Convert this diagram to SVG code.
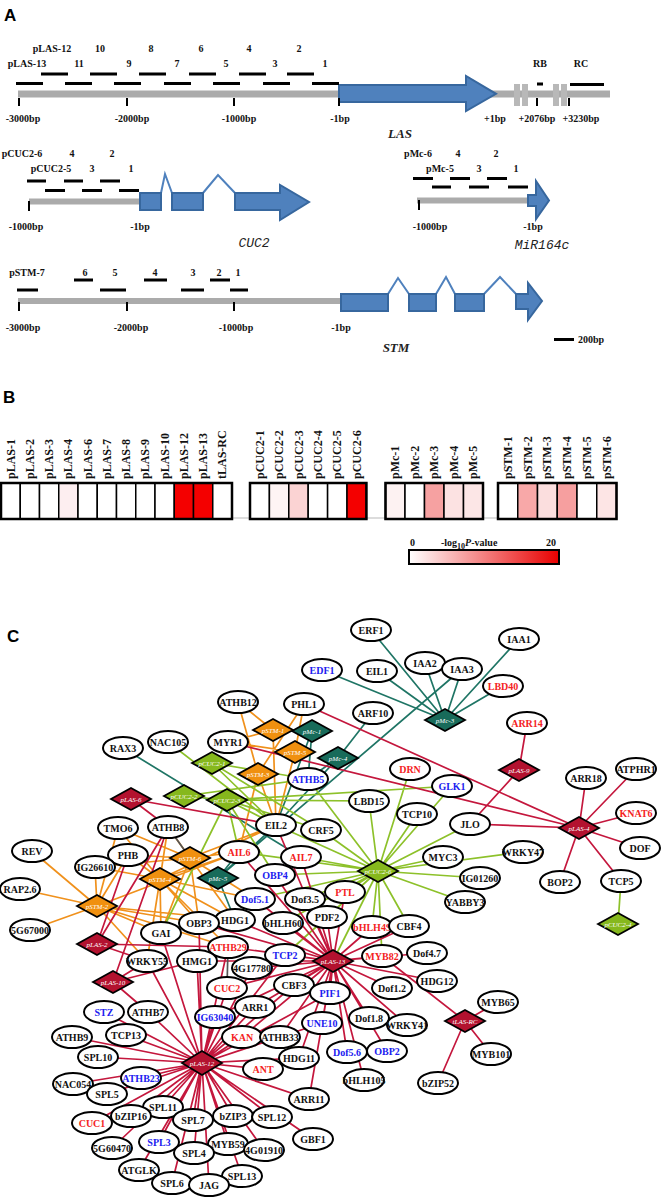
<svg xmlns="http://www.w3.org/2000/svg" width="661" height="1197" viewBox="0 0 661 1197">
<defs>
<linearGradient id="lg" x1="0" x2="1" y1="0" y2="0"><stop offset="0" stop-color="#ffffff"/><stop offset="1" stop-color="#e80000"/></linearGradient>
<style>
.pl{font:bold 17px "Liberation Sans",Arial,sans-serif;fill:#000}
.lb{font:bold 10px "Liberation Serif",serif;fill:#111}
.mid{text-anchor:middle}
.gi{font:bold italic 13px "Liberation Serif",serif;fill:#222;text-anchor:middle}
.gm{font:italic 13px "Liberation Mono",monospace;fill:#222;text-anchor:middle}
.bar{fill:#ababab}
.ds{stroke:#000;stroke-width:3}
.tk{stroke:#000;stroke-width:2}
.ex{fill:#4f81bd;stroke:#37679e;stroke-width:2}
.in{fill:none;stroke:#4f81bd;stroke-width:2}
.hl{font:bold 12px "Liberation Serif",serif;fill:#111}
.cell{stroke:#000;stroke-width:1.5}
.frame{fill:none;stroke:#000;stroke-width:2.5}
.c line,.c path{stroke-width:1.7;fill:none}
.tl{stroke:#1f7565}
.or{stroke:#f0911c}
.gr{stroke:#8dc12a}
.rd{stroke:#c4173d}
.gy{stroke:#555}
.nd ellipse{fill:#fff;stroke:#000;stroke-width:2}
.nd text{font:bold 10px "Liberation Serif",serif;text-anchor:middle;fill:#111}
.nd.r text{fill:#f42323}
.nd.b text{fill:#2020f0}
.dm polygon{stroke:#000;stroke-width:1.8}
.dm text{font:italic 7px "Liberation Serif",serif;text-anchor:middle;fill:#fff}
.mc polygon{fill:#186b5a}
.st polygon{fill:#f0900f}
.cu polygon{fill:#86b81d}
.la polygon{fill:#b3122f}
</style>
</defs>
<rect width="661" height="1197" fill="#fff"/>

<!-- Panel A -->
<g id="panelA">
<text class="pl" x="4" y="21">A</text>
<g id="gene-LAS">
<rect class="bar" x="18" y="90.5" width="592" height="7"/>
<rect x="514" y="84" width="6" height="22" fill="#b8b8b8"/>
<rect x="522" y="84" width="6" height="22" fill="#b8b8b8"/>
<rect x="553" y="84" width="6" height="22" fill="#b8b8b8"/>
<rect x="561" y="84" width="6" height="22" fill="#b8b8b8"/>
<path class="ex" d="M339,85H466V76L496,93.8L466,111V102H339Z"/>
<path class="tk" d="M19,98V106M127,98V106M234,98V106M339,98V106M537,98V106M569,98V106"/>
<path class="ds" d="M41,74H68M90,74H117M139,74H166M189,74H216M239,74H266M287,74H314M16,83.5H43M65,83.5H92M114,83.5H141M164,83.5H191M213,83.5H240M263,83.5H290M312,83.5H339M537,84H543M570,84.5H604"/>
<g class="lb mid">
<text x="52" y="52">pLAS-12</text><text x="100" y="52">10</text><text x="151" y="52">8</text><text x="201" y="52">6</text><text x="249" y="52">4</text><text x="299" y="52">2</text>
<text x="27" y="67">pLAS-13</text><text x="79" y="67">11</text><text x="129" y="67">9</text><text x="177" y="67">7</text><text x="226" y="67">5</text><text x="275" y="67">3</text><text x="325" y="67">1</text>
<text x="540" y="67">RB</text><text x="581" y="67">RC</text>
<text x="23" y="122">-3000bp</text><text x="132" y="122">-2000bp</text><text x="239" y="122">-1000bp</text><text x="340" y="122">-1bp</text>
<text x="495" y="122">+1bp</text><text x="537" y="122">+2076bp</text><text x="581" y="122">+3230bp</text>
</g>
<text class="gi" x="400" y="138">LAS</text>
</g>
<g id="gene-CUC2">
<rect class="bar" x="29" y="198.5" width="111" height="6"/>
<path class="tk" d="M29,201V211"/>
<path class="ds" d="M27,181H46M64,181H83M100,181H120M45,190.5H65M82,190.5H102M119,190.5H139"/>
<path class="in" d="M161,193L165,174L172,193M203,193L218,175L235,193"/>
<rect class="ex" x="140" y="193" width="21" height="17"/>
<rect class="ex" x="172" y="193" width="31" height="17"/>
<path class="ex" d="M235,193H280V185L309,202L280,220V210H235Z"/>
<g class="lb mid">
<text x="22" y="157">pCUC2-6</text><text x="72" y="157">4</text><text x="112" y="157">2</text>
<text x="51" y="172">pCUC2-5</text><text x="92" y="172">3</text><text x="131" y="172">1</text>
<text x="26" y="230">-1000bp</text><text x="140" y="230">-1bp</text>
</g>
<text class="gm" x="254" y="247">CUC2</text>
</g>
<g id="gene-MiR164c">
<rect class="bar" x="417" y="197.5" width="112" height="6"/>
<path class="tk" d="M419,200V210"/>
<path class="ds" d="M413,178.6H433M450,178.6H470M487,178.6H507M432,187H451M469,187H489M508,187H528"/>
<path class="ex" d="M528,195H536V181L549,200.5L536,219V206H528Z"/>
<g class="lb mid">
<text x="418" y="157">pMc-6</text><text x="458" y="157">4</text><text x="496" y="157">2</text>
<text x="440" y="172">pMc-5</text><text x="479" y="172">3</text><text x="516" y="172">1</text>
<text x="430" y="230">-1000bp</text><text x="533" y="230">-1bp</text>
</g>
<text class="gm" x="542" y="249">MiR164c</text>
</g>
<g id="gene-STM">
<rect class="bar" x="18" y="298" width="323" height="6"/>
<path class="tk" d="M19,302V311M127,302V311M234,302V311"/>
<path class="ds" d="M74,280H93M144,280H167M210,280H230M17,290H38M100,290H126M181,290H204M230,290H248"/>
<path class="in" d="M388,294L398,278L409,294M436,294L446,277L455,294M484,294L500,277L516,294"/>
<rect class="ex" x="341" y="294" width="47" height="17"/>
<rect class="ex" x="409" y="294" width="27" height="17"/>
<rect class="ex" x="455" y="294" width="29" height="17"/>
<path class="ex" d="M516,294H528V283L542,301L528,320V309H516Z"/>
<g class="lb mid">
<text x="27" y="276">pSTM-7</text><text x="85" y="276">6</text><text x="115" y="276">5</text><text x="155" y="276">4</text><text x="193" y="276">3</text><text x="219" y="276">2</text><text x="238" y="276">1</text>
<text x="23" y="331">-3000bp</text><text x="131" y="331">-2000bp</text><text x="236" y="331">-1000bp</text><text x="341" y="331">-1bp</text>
</g>
<text class="gi" x="396" y="352">STM</text>
<path class="ds" d="M554,339.5H574"/>
<text class="lb" x="578" y="343">200bp</text>
</g>
</g>

<!-- Panel B -->
<g id="panelB">
<text class="pl" x="3" y="403">B</text>
<path d="M232,518H498" stroke="#d0d0d0" stroke-width="1.5"/>
<g id="heat-LAS">
<rect class="cell" x="1" y="483" width="19.25" height="36" fill="#fff"/>
<rect class="cell" x="20.25" y="483" width="19.25" height="36" fill="#fff"/>
<rect class="cell" x="39.5" y="483" width="19.25" height="36" fill="#fff"/>
<rect class="cell" x="58.75" y="483" width="19.25" height="36" fill="#fdeef0"/>
<rect class="cell" x="78" y="483" width="19.25" height="36" fill="#fff"/>
<rect class="cell" x="97.25" y="483" width="19.25" height="36" fill="#fff"/>
<rect class="cell" x="116.5" y="483" width="19.25" height="36" fill="#fff"/>
<rect class="cell" x="135.75" y="483" width="19.25" height="36" fill="#fff"/>
<rect class="cell" x="155" y="483" width="19.25" height="36" fill="#fff"/>
<rect class="cell" x="174.25" y="483" width="19.25" height="36" fill="#f40000"/>
<rect class="cell" x="193.5" y="483" width="19.25" height="36" fill="#f40000"/>
<rect class="cell" x="212.75" y="483" width="19.25" height="36" fill="#fff"/>
<rect class="frame" x="1" y="483" width="231" height="36"/>
</g>
<g id="heat-CUC2">
<rect class="cell" x="250" y="483" width="19.4" height="36" fill="#fff"/>
<rect class="cell" x="269.4" y="483" width="19.4" height="36" fill="#fef4f4"/>
<rect class="cell" x="288.8" y="483" width="19.4" height="36" fill="#fbd3d3"/>
<rect class="cell" x="308.2" y="483" width="19.4" height="36" fill="#fff"/>
<rect class="cell" x="327.6" y="483" width="19.4" height="36" fill="#fff"/>
<rect class="cell" x="347" y="483" width="19.4" height="36" fill="#f40000"/>
<rect class="frame" x="250" y="483" width="116.4" height="36"/>
</g>
<g id="heat-Mc">
<rect class="cell" x="385.5" y="483" width="19.5" height="36" fill="#fdf2f2"/>
<rect class="cell" x="405" y="483" width="19.5" height="36" fill="#fff"/>
<rect class="cell" x="424.5" y="483" width="19.5" height="36" fill="#f6a1a1"/>
<rect class="cell" x="444" y="483" width="19.5" height="36" fill="#fce2e2"/>
<rect class="cell" x="463.5" y="483" width="19.5" height="36" fill="#fce6e6"/>
<rect class="frame" x="385.5" y="483" width="97.5" height="36"/>
</g>
<g id="heat-STM">
<rect class="cell" x="498" y="483" width="19.75" height="36" fill="#fff"/>
<rect class="cell" x="517.75" y="483" width="19.75" height="36" fill="#f8a8a8"/>
<rect class="cell" x="537.5" y="483" width="19.75" height="36" fill="#fbdede"/>
<rect class="cell" x="557.25" y="483" width="19.75" height="36" fill="#f69f9f"/>
<rect class="cell" x="577" y="483" width="19.75" height="36" fill="#fff"/>
<rect class="cell" x="596.75" y="483" width="19.75" height="36" fill="#fde5e5"/>
<rect class="frame" x="498" y="483" width="118.5" height="36"/>
</g>
<g class="hl" id="heat-labels">
<text transform="translate(14.6,479) rotate(-90)">pLAS-1</text>
<text transform="translate(33.9,479) rotate(-90)">pLAS-2</text>
<text transform="translate(53.1,479) rotate(-90)">pLAS-3</text>
<text transform="translate(72.4,479) rotate(-90)">pLAS-4</text>
<text transform="translate(91.6,479) rotate(-90)">pLAS-6</text>
<text transform="translate(110.9,479) rotate(-90)">pLAS-7</text>
<text transform="translate(130.1,479) rotate(-90)">pLAS-8</text>
<text transform="translate(149.4,479) rotate(-90)">pLAS-9</text>
<text transform="translate(168.6,479) rotate(-90)">pLAS-10</text>
<text transform="translate(187.9,479) rotate(-90)">pLAS-12</text>
<text transform="translate(207.1,479) rotate(-90)">pLAS-13</text>
<text transform="translate(226.4,479) rotate(-90)">tLAS-RC</text>
<text transform="translate(263.7,479) rotate(-90)">pCUC2-1</text>
<text transform="translate(283.1,479) rotate(-90)">pCUC2-2</text>
<text transform="translate(302.5,479) rotate(-90)">pCUC2-3</text>
<text transform="translate(321.9,479) rotate(-90)">pCUC2-4</text>
<text transform="translate(341.3,479) rotate(-90)">pCUC2-5</text>
<text transform="translate(360.7,479) rotate(-90)">pCUC2-6</text>
<text transform="translate(399.3,479) rotate(-90)">pMc-1</text>
<text transform="translate(418.8,479) rotate(-90)">pMc-2</text>
<text transform="translate(438.3,479) rotate(-90)">pMc-3</text>
<text transform="translate(457.8,479) rotate(-90)">pMc-4</text>
<text transform="translate(477.3,479) rotate(-90)">pMc-5</text>
<text transform="translate(511.9,479) rotate(-90)">pSTM-1</text>
<text transform="translate(531.6,479) rotate(-90)">pSTM-2</text>
<text transform="translate(551.4,479) rotate(-90)">pSTM-3</text>
<text transform="translate(571.1,479) rotate(-90)">pSTM-4</text>
<text transform="translate(590.9,479) rotate(-90)">pSTM-5</text>
<text transform="translate(610.6,479) rotate(-90)">pSTM-6</text>
</g>
<g id="legend">
<text class="lb" x="410" y="546" font-size="11">0</text>
<text class="lb" x="441" y="546" font-size="11">-log<tspan font-size="8" dy="3">10</tspan><tspan dy="-3" font-style="italic">P</tspan>-value</text>
<text class="lb" x="546" y="546" font-size="11">20</text>
<rect x="409" y="550" width="150" height="14" fill="url(#lg)" stroke="#000" stroke-width="2"/>
</g>
</g>

<!-- Panel C -->
<text class="pl" x="7" y="642">C</text>
<g id="connectors" class="c">
<path id="e-pMc-3" class="tl" d="M445,720L371,630M445,720L322,670M445,720L377,671M445,720L425,663M445,720L462,669M445,720L519,639M445,720L503,686"/>
<path id="e-pMc-other" class="tl" d="M462,669L218,878M338,758L373,713M338,758L276,825M338,758L308,779M312,731L308,779M312,731L276,825M218,878L239,852M218,878L235,920M218,878L276,825M123,748L301,857"/>
<path id="e-pSTM" class="or" d="M273,730L238,702M273,730L228,742M273,730L276,825M295,752L304,704M295,752L276,825M295,752L228,742M258,774L238,702M258,774L304,704M258,774L276,825M258,774L239,852M190,858L168,827M190,858L118,828M190,858L128,855M190,858L239,852M190,858L276,825M190,858L161,933M190,858L199,923M190,858L235,920M190,858L255,899M190,858L95,867M160,879L128,855M160,879L118,828M160,879L95,867M160,879L168,827M160,879L239,852M160,879L276,825M160,879L255,899M160,879L235,920M160,879L199,923M160,879L161,933M160,879L228,947M160,879L147,961M97,906L32,851M97,906L20,889M97,906L30,930M97,906L95,867M97,906L118,828M97,906L128,855M97,906L161,933M97,906L199,923M97,906L235,920M97,906L147,961M97,906L228,947M97,906L239,852"/>
<path id="e-pCUC2" class="gr" d="M168,742L276,825M212,763L276,825M212,763L308,779M212,763L321,830M184,796L308,779M184,796L227,800M227,800L369,801M227,800L452,786M227,800L276,825M227,800L161,933M227,800L239,852M227,800L275,875M227,800L321,830M618,924L621,881M378,871L410,769M378,871L452,786M378,871L369,801M378,871L417,814M378,871L470,824M378,871L443,857M378,871L523,852M378,871L480,878M378,871L465,902M378,871L321,830M378,871L276,825M378,871L308,779M378,871L301,857M378,871L275,875M378,871L239,852M378,871L255,899M378,871L305,899M378,871L345,892M378,871L327,917M378,871L283,923M378,871L372,927M378,871L409,926M378,871L285,955M378,871L333,961M378,871L382,956"/>
<path id="e-pLAS-4" class="rd" d="M579,828L304,704M579,828L228,742M579,828L470,824M579,828L586,778M579,828L636,769M579,828L636,813M579,828L640,848M579,828L621,881M579,828L560,882M519,770L527,723M519,770L470,824"/>
<path id="e-pLAS-small" class="rd" d="M131,799L168,827M131,799L276,825M97,944L228,947M97,944L168,827M97,944L147,961M97,944L128,855M113,982L168,827M113,982L147,961M113,982L197,961M113,982L148,1012M465,1021L382,956M465,1021L498,1002M465,1021L491,1054M465,1021L438,1083"/>
<path id="e-pLAS-13" class="rd" d="M333,961L345,892M333,961L327,917M333,961L283,923M333,961L305,899M333,961L255,899M333,961L301,857M333,961L275,875M333,961L276,825M333,961L239,852M333,961L235,920M333,961L199,923M333,961L372,927M333,961L409,926M333,961L382,956M333,961L427,953M333,961L437,981M333,961L392,988M333,961L407,1025M333,961L369,1018M333,961L330,993M333,961L322,1023M333,961L294,985M333,961L285,955M333,961L252,968M333,961L255,1007M333,961L228,947M333,961L227,988M333,961L215,1017M333,961L242,1037M333,961L280,1037M333,961L299,1058M333,961L347,1052M333,961L387,1051M333,961L364,1080M333,961L309,1099M333,961L197,961"/>
<path id="e-pLAS-12" class="rd" d="M202,1063L98,1057M202,1063L141,1078M202,1063L73,1084M202,1063L107,1094M202,1063L163,1107M202,1063L131,1116M202,1063L92,1123M202,1063L112,1148M202,1063L159,1142M202,1063L139,1170M202,1063L172,1183M202,1063L193,1120M202,1063L194,1153M202,1063L209,1185M202,1063L233,1116M202,1063L228,1144M202,1063L242,1176M202,1063L264,1150M202,1063L272,1117M202,1063L313,1139M202,1063L309,1099M202,1063L263,1069M202,1063L299,1058M202,1063L280,1037M202,1063L242,1037M202,1063L255,1007M202,1063L215,1017M202,1063L227,988M202,1063L228,947M202,1063L197,961M202,1063L161,933M202,1063L199,923M202,1063L126,1035M202,1063L72,1037M202,1063L104,1012M202,1063L148,1012M202,1063L294,985M202,1063L285,955M202,1063L330,993M202,1063L322,1023M202,1063L252,968M202,1063L147,961"/>
<path id="e-gray" class="gy" d="M168,827L190,858M228,947L227,988"/>
</g>

<g id="nodes">
<g id="n-ERF1" class="nd" transform="translate(371,630)"><ellipse rx="20" ry="11"/><text y="3.5">ERF1</text></g>
<g id="n-IAA1" class="nd" transform="translate(519,639)"><ellipse rx="20" ry="11"/><text y="3.5">IAA1</text></g>
<g id="n-IAA2" class="nd" transform="translate(425,663)"><ellipse rx="20" ry="11"/><text y="3.5">IAA2</text></g>
<g id="n-IAA3" class="nd" transform="translate(462,669)"><ellipse rx="20" ry="11"/><text y="3.5">IAA3</text></g>
<g id="n-EIL1" class="nd" transform="translate(377,671)"><ellipse rx="20" ry="11"/><text y="3.5">EIL1</text></g>
<g id="n-EDF1" class="nd b" transform="translate(322,670)"><ellipse rx="20" ry="11"/><text y="3.5">EDF1</text></g>
<g id="n-LBD40" class="nd r" transform="translate(503,686)"><ellipse rx="20" ry="11"/><text y="3.5">LBD40</text></g>
<g id="n-ATHB12" class="nd" transform="translate(238,702)"><ellipse rx="20" ry="11"/><text y="3.5">ATHB12</text></g>
<g id="n-PHL1" class="nd" transform="translate(304,704)"><ellipse rx="20" ry="11"/><text y="3.5">PHL1</text></g>
<g id="n-ARF10" class="nd" transform="translate(373,713)"><ellipse rx="20" ry="11"/><text y="3.5">ARF10</text></g>
<g id="n-ARR14" class="nd r" transform="translate(527,723)"><ellipse rx="20" ry="11"/><text y="3.5">ARR14</text></g>
<g id="n-RAX3" class="nd" transform="translate(123,748)"><ellipse rx="20" ry="11"/><text y="3.5">RAX3</text></g>
<g id="n-NAC105" class="nd" transform="translate(168,742)"><ellipse rx="20" ry="11"/><text y="3.5">NAC105</text></g>
<g id="n-MYR1" class="nd" transform="translate(228,742)"><ellipse rx="20" ry="11"/><text y="3.5">MYR1</text></g>
<g id="n-ATHB5" class="nd b" transform="translate(308,779)"><ellipse rx="20" ry="11"/><text y="3.5">ATHB5</text></g>
<g id="n-ARR18" class="nd" transform="translate(586,778)"><ellipse rx="20" ry="11"/><text y="3.5">ARR18</text></g>
<g id="n-ATPHR1" class="nd" transform="translate(636,769)"><ellipse rx="20" ry="11"/><text y="3.5">ATPHR1</text></g>
<g id="n-DRN" class="nd r" transform="translate(410,769)"><ellipse rx="20" ry="11"/><text y="3.5">DRN</text></g>
<g id="n-GLK1" class="nd b" transform="translate(452,786)"><ellipse rx="20" ry="11"/><text y="3.5">GLK1</text></g>
<g id="n-LBD15" class="nd" transform="translate(369,801)"><ellipse rx="20" ry="11"/><text y="3.5">LBD15</text></g>
<g id="n-TCP10" class="nd" transform="translate(417,814)"><ellipse rx="20" ry="11"/><text y="3.5">TCP10</text></g>
<g id="n-KNAT6" class="nd r" transform="translate(636,813)"><ellipse rx="20" ry="11"/><text y="3.5">KNAT6</text></g>
<g id="n-JLO" class="nd" transform="translate(470,824)"><ellipse rx="20" ry="11"/><text y="3.5">JLO</text></g>
<g id="n-TMO6" class="nd" transform="translate(118,828)"><ellipse rx="20" ry="11"/><text y="3.5">TMO6</text></g>
<g id="n-ATHB8" class="nd" transform="translate(168,827)"><ellipse rx="20" ry="11"/><text y="3.5">ATHB8</text></g>
<g id="n-EIL2" class="nd" transform="translate(276,825)"><ellipse rx="20" ry="11"/><text y="3.5">EIL2</text></g>
<g id="n-CRF5" class="nd" transform="translate(321,830)"><ellipse rx="20" ry="11"/><text y="3.5">CRF5</text></g>
<g id="n-DOF" class="nd" transform="translate(640,848)"><ellipse rx="20" ry="11"/><text y="3.5">DOF</text></g>
<g id="n-REV" class="nd" transform="translate(32,851)"><ellipse rx="20" ry="11"/><text y="3.5">REV</text></g>
<g id="n-PHB" class="nd" transform="translate(128,855)"><ellipse rx="20" ry="11"/><text y="3.5">PHB</text></g>
<g id="n-AIL6" class="nd r" transform="translate(239,852)"><ellipse rx="20" ry="11"/><text y="3.5">AIL6</text></g>
<g id="n-AIL7" class="nd r" transform="translate(301,857)"><ellipse rx="20" ry="11"/><text y="3.5">AIL7</text></g>
<g id="n-MYC3" class="nd" transform="translate(443,857)"><ellipse rx="20" ry="11"/><text y="3.5">MYC3</text></g>
<g id="n-WRKY47" class="nd" transform="translate(523,852)"><ellipse rx="20" ry="11"/><text y="3.5">WRKY47</text></g>
<g id="n-IG26610" class="nd" transform="translate(95,867)"><ellipse rx="20" ry="11"/><text y="3.5">IG26610</text></g>
<g id="n-OBP4" class="nd b" transform="translate(275,875)"><ellipse rx="20" ry="11"/><text y="3.5">OBP4</text></g>
<g id="n-IG01260" class="nd" transform="translate(480,878)"><ellipse rx="20" ry="11"/><text y="3.5">IG01260</text></g>
<g id="n-BOP2" class="nd" transform="translate(560,882)"><ellipse rx="20" ry="11"/><text y="3.5">BOP2</text></g>
<g id="n-TCP5" class="nd" transform="translate(621,881)"><ellipse rx="20" ry="11"/><text y="3.5">TCP5</text></g>
<g id="n-RAP2.6" class="nd" transform="translate(20,889)"><ellipse rx="20" ry="11"/><text y="3.5">RAP2.6</text></g>
<g id="n-PTL" class="nd r" transform="translate(345,892)"><ellipse rx="20" ry="11"/><text y="3.5">PTL</text></g>
<g id="n-Dof5.1" class="nd b" transform="translate(255,899)"><ellipse rx="20" ry="11"/><text y="3.5">Dof5.1</text></g>
<g id="n-Dof3.5" class="nd" transform="translate(305,899)"><ellipse rx="20" ry="11"/><text y="3.5">Dof3.5</text></g>
<g id="n-YABBY3" class="nd" transform="translate(465,902)"><ellipse rx="20" ry="11"/><text y="3.5">YABBY3</text></g>
<g id="n-PDF2" class="nd" transform="translate(327,917)"><ellipse rx="20" ry="11"/><text y="3.5">PDF2</text></g>
<g id="n-HDG1" class="nd" transform="translate(235,920)"><ellipse rx="20" ry="11"/><text y="3.5">HDG1</text></g>
<g id="n-OBP3" class="nd" transform="translate(199,923)"><ellipse rx="20" ry="11"/><text y="3.5">OBP3</text></g>
<g id="n-bHLH60" class="nd" transform="translate(283,923)"><ellipse rx="20" ry="11"/><text y="3.5">bHLH60</text></g>
<g id="n-bHLH49" class="nd r" transform="translate(372,927)"><ellipse rx="20" ry="11"/><text y="3.5">bHLH49</text></g>
<g id="n-CBF4" class="nd" transform="translate(409,926)"><ellipse rx="20" ry="11"/><text y="3.5">CBF4</text></g>
<g id="n-5G67000" class="nd" transform="translate(30,930)"><ellipse rx="20" ry="11"/><text y="3.5">5G67000</text></g>
<g id="n-GAI" class="nd" transform="translate(161,933)"><ellipse rx="20" ry="11"/><text y="3.5">GAI</text></g>
<g id="n-ATHB29" class="nd r" transform="translate(228,947)"><ellipse rx="20" ry="11"/><text y="3.5">ATHB29</text></g>
<g id="n-Dof4.7" class="nd" transform="translate(427,953)"><ellipse rx="20" ry="11"/><text y="3.5">Dof4.7</text></g>
<g id="n-TCP2" class="nd b" transform="translate(285,955)"><ellipse rx="20" ry="11"/><text y="3.5">TCP2</text></g>
<g id="n-MYB82" class="nd r" transform="translate(382,956)"><ellipse rx="20" ry="11"/><text y="3.5">MYB82</text></g>
<g id="n-WRKY55" class="nd" transform="translate(147,961)"><ellipse rx="20" ry="11"/><text y="3.5">WRKY55</text></g>
<g id="n-HMG1" class="nd" transform="translate(197,961)"><ellipse rx="20" ry="11"/><text y="3.5">HMG1</text></g>
<g id="n-4G17780" class="nd" transform="translate(252,968)"><ellipse rx="20" ry="11"/><text y="3.5">4G17780</text></g>
<g id="n-HDG12" class="nd" transform="translate(437,981)"><ellipse rx="20" ry="11"/><text y="3.5">HDG12</text></g>
<g id="n-CBF3" class="nd" transform="translate(294,985)"><ellipse rx="20" ry="11"/><text y="3.5">CBF3</text></g>
<g id="n-CUC2" class="nd r" transform="translate(227,988)"><ellipse rx="20" ry="11"/><text y="3.5">CUC2</text></g>
<g id="n-Dof1.2" class="nd" transform="translate(392,988)"><ellipse rx="20" ry="11"/><text y="3.5">Dof1.2</text></g>
<g id="n-PIF1" class="nd b" transform="translate(330,993)"><ellipse rx="20" ry="11"/><text y="3.5">PIF1</text></g>
<g id="n-MYB65" class="nd" transform="translate(498,1002)"><ellipse rx="20" ry="11"/><text y="3.5">MYB65</text></g>
<g id="n-ARR1" class="nd" transform="translate(255,1007)"><ellipse rx="20" ry="11"/><text y="3.5">ARR1</text></g>
<g id="n-STZ" class="nd b" transform="translate(104,1012)"><ellipse rx="20" ry="11"/><text y="3.5">STZ</text></g>
<g id="n-ATHB7" class="nd" transform="translate(148,1012)"><ellipse rx="20" ry="11"/><text y="3.5">ATHB7</text></g>
<g id="n-IG63040" class="nd b" transform="translate(215,1017)"><ellipse rx="20" ry="11"/><text y="3.5">IG63040</text></g>
<g id="n-Dof1.8" class="nd" transform="translate(369,1018)"><ellipse rx="20" ry="11"/><text y="3.5">Dof1.8</text></g>
<g id="n-UNE10" class="nd b" transform="translate(322,1023)"><ellipse rx="20" ry="11"/><text y="3.5">UNE10</text></g>
<g id="n-WRKY41" class="nd" transform="translate(407,1025)"><ellipse rx="20" ry="11"/><text y="3.5">WRKY41</text></g>
<g id="n-ATHB9" class="nd" transform="translate(72,1037)"><ellipse rx="20" ry="11"/><text y="3.5">ATHB9</text></g>
<g id="n-TCP13" class="nd" transform="translate(126,1035)"><ellipse rx="20" ry="11"/><text y="3.5">TCP13</text></g>
<g id="n-KAN" class="nd r" transform="translate(242,1037)"><ellipse rx="20" ry="11"/><text y="3.5">KAN</text></g>
<g id="n-ATHB33" class="nd" transform="translate(280,1037)"><ellipse rx="20" ry="11"/><text y="3.5">ATHB33</text></g>
<g id="n-OBP2" class="nd b" transform="translate(387,1051)"><ellipse rx="20" ry="11"/><text y="3.5">OBP2</text></g>
<g id="n-Dof5.6" class="nd b" transform="translate(347,1052)"><ellipse rx="20" ry="11"/><text y="3.5">Dof5.6</text></g>
<g id="n-MYB101" class="nd" transform="translate(491,1054)"><ellipse rx="20" ry="11"/><text y="3.5">MYB101</text></g>
<g id="n-SPL10" class="nd" transform="translate(98,1057)"><ellipse rx="20" ry="11"/><text y="3.5">SPL10</text></g>
<g id="n-HDG11" class="nd" transform="translate(299,1058)"><ellipse rx="20" ry="11"/><text y="3.5">HDG11</text></g>
<g id="n-ANT" class="nd r" transform="translate(263,1069)"><ellipse rx="20" ry="11"/><text y="3.5">ANT</text></g>
<g id="n-ATHB23" class="nd b" transform="translate(141,1078)"><ellipse rx="20" ry="11"/><text y="3.5">ATHB23</text></g>
<g id="n-bHLH105" class="nd" transform="translate(364,1080)"><ellipse rx="20" ry="11"/><text y="3.5">bHLH105</text></g>
<g id="n-bZIP52" class="nd" transform="translate(438,1083)"><ellipse rx="20" ry="11"/><text y="3.5">bZIP52</text></g>
<g id="n-NAC054" class="nd" transform="translate(73,1084)"><ellipse rx="20" ry="11"/><text y="3.5">NAC054</text></g>
<g id="n-SPL5" class="nd" transform="translate(107,1094)"><ellipse rx="20" ry="11"/><text y="3.5">SPL5</text></g>
<g id="n-ARR11" class="nd" transform="translate(309,1099)"><ellipse rx="20" ry="11"/><text y="3.5">ARR11</text></g>
<g id="n-SPL11" class="nd" transform="translate(163,1107)"><ellipse rx="20" ry="11"/><text y="3.5">SPL11</text></g>
<g id="n-bZIP16" class="nd" transform="translate(131,1116)"><ellipse rx="20" ry="11"/><text y="3.5">bZIP16</text></g>
<g id="n-bZIP3" class="nd" transform="translate(233,1116)"><ellipse rx="20" ry="11"/><text y="3.5">bZIP3</text></g>
<g id="n-SPL12" class="nd" transform="translate(272,1117)"><ellipse rx="20" ry="11"/><text y="3.5">SPL12</text></g>
<g id="n-SPL7" class="nd" transform="translate(193,1120)"><ellipse rx="20" ry="11"/><text y="3.5">SPL7</text></g>
<g id="n-CUC1" class="nd r" transform="translate(92,1123)"><ellipse rx="20" ry="11"/><text y="3.5">CUC1</text></g>
<g id="n-GBF1" class="nd" transform="translate(313,1139)"><ellipse rx="20" ry="11"/><text y="3.5">GBF1</text></g>
<g id="n-SPL3" class="nd b" transform="translate(159,1142)"><ellipse rx="20" ry="11"/><text y="3.5">SPL3</text></g>
<g id="n-MYB59" class="nd" transform="translate(228,1144)"><ellipse rx="20" ry="11"/><text y="3.5">MYB59</text></g>
<g id="n-5G60470" class="nd" transform="translate(112,1148)"><ellipse rx="20" ry="11"/><text y="3.5">5G60470</text></g>
<g id="n-4G01910" class="nd" transform="translate(264,1150)"><ellipse rx="20" ry="11"/><text y="3.5">4G01910</text></g>
<g id="n-SPL4" class="nd" transform="translate(194,1153)"><ellipse rx="20" ry="11"/><text y="3.5">SPL4</text></g>
<g id="n-ATGLK" class="nd" transform="translate(139,1170)"><ellipse rx="20" ry="11"/><text y="3.5">ATGLK</text></g>
<g id="n-SPL13" class="nd" transform="translate(242,1176)"><ellipse rx="20" ry="11"/><text y="3.5">SPL13</text></g>
<g id="n-SPL6" class="nd" transform="translate(172,1183)"><ellipse rx="20" ry="11"/><text y="3.5">SPL6</text></g>
<g id="n-JAG" class="nd" transform="translate(209,1185)"><ellipse rx="20" ry="11"/><text y="3.5">JAG</text></g>

<g id="d-pMc-3" class="dm mc" transform="translate(445,720)"><polygon points="-20,0 0,-11 20,0 0,11"/><text y="2.5">pMc-3</text></g>
<g id="d-pMc-1" class="dm mc" transform="translate(312,731)"><polygon points="-20,0 0,-11 20,0 0,11"/><text y="2.5">pMc-1</text></g>
<g id="d-pMc-4" class="dm mc" transform="translate(338,758)"><polygon points="-20,0 0,-11 20,0 0,11"/><text y="2.5">pMc-4</text></g>
<g id="d-pMc-5" class="dm mc" transform="translate(218,878)"><polygon points="-20,0 0,-11 20,0 0,11"/><text y="2.5">pMc-5</text></g>
<g id="d-pSTM-1" class="dm st" transform="translate(273,730)"><polygon points="-20,0 0,-11 20,0 0,11"/><text y="2.5">pSTM-1</text></g>
<g id="d-pSTM-5" class="dm st" transform="translate(295,752)"><polygon points="-20,0 0,-11 20,0 0,11"/><text y="2.5">pSTM-5</text></g>
<g id="d-pSTM-3" class="dm st" transform="translate(258,774)"><polygon points="-20,0 0,-11 20,0 0,11"/><text y="2.5">pSTM-3</text></g>
<g id="d-pSTM-6" class="dm st" transform="translate(190,858)"><polygon points="-20,0 0,-11 20,0 0,11"/><text y="2.5">pSTM-6</text></g>
<g id="d-pSTM-4" class="dm st" transform="translate(160,879)"><polygon points="-20,0 0,-11 20,0 0,11"/><text y="2.5">pSTM-4</text></g>
<g id="d-pSTM-2" class="dm st" transform="translate(97,906)"><polygon points="-20,0 0,-11 20,0 0,11"/><text y="2.5">pSTM-2</text></g>
<g id="d-pCUC2-1" class="dm cu" transform="translate(212,763)"><polygon points="-20,0 0,-11 20,0 0,11"/><text y="2.5">pCUC2-1</text></g>
<g id="d-pCUC2-2" class="dm cu" transform="translate(184,796)"><polygon points="-20,0 0,-11 20,0 0,11"/><text y="2.5">pCUC2-2</text></g>
<g id="d-pCUC2-3" class="dm cu" transform="translate(227,800)"><polygon points="-20,0 0,-11 20,0 0,11"/><text y="2.5">pCUC2-3</text></g>
<g id="d-pCUC2-6" class="dm cu" transform="translate(378,871)"><polygon points="-20,0 0,-11 20,0 0,11"/><text y="2.5">pCUC2-6</text></g>
<g id="d-pCUC2-4" class="dm cu" transform="translate(618,924)"><polygon points="-20,0 0,-11 20,0 0,11"/><text y="2.5">pCUC2-4</text></g>
<g id="d-pLAS-6" class="dm la" transform="translate(131,799)"><polygon points="-20,0 0,-11 20,0 0,11"/><text y="2.5">pLAS-6</text></g>
<g id="d-pLAS-9" class="dm la" transform="translate(519,770)"><polygon points="-20,0 0,-11 20,0 0,11"/><text y="2.5">pLAS-9</text></g>
<g id="d-pLAS-4" class="dm la" transform="translate(579,828)"><polygon points="-20,0 0,-11 20,0 0,11"/><text y="2.5">pLAS-4</text></g>
<g id="d-pLAS-2" class="dm la" transform="translate(97,944)"><polygon points="-20,0 0,-11 20,0 0,11"/><text y="2.5">pLAS-2</text></g>
<g id="d-pLAS-10" class="dm la" transform="translate(113,982)"><polygon points="-20,0 0,-11 20,0 0,11"/><text y="2.5">pLAS-10</text></g>
<g id="d-pLAS-13" class="dm la" transform="translate(333,961)"><polygon points="-20,0 0,-11 20,0 0,11"/><text y="2.5">pLAS-13</text></g>
<g id="d-tLAS-RC" class="dm la" transform="translate(465,1021)"><polygon points="-20,0 0,-11 20,0 0,11"/><text y="2.5">tLAS-RC</text></g>
<g id="d-pLAS-12" class="dm la" transform="translate(202,1063)"><polygon points="-20,0 0,-12 20,0 0,12"/><text y="2.5">pLAS-12</text></g>
</g>
</svg>
